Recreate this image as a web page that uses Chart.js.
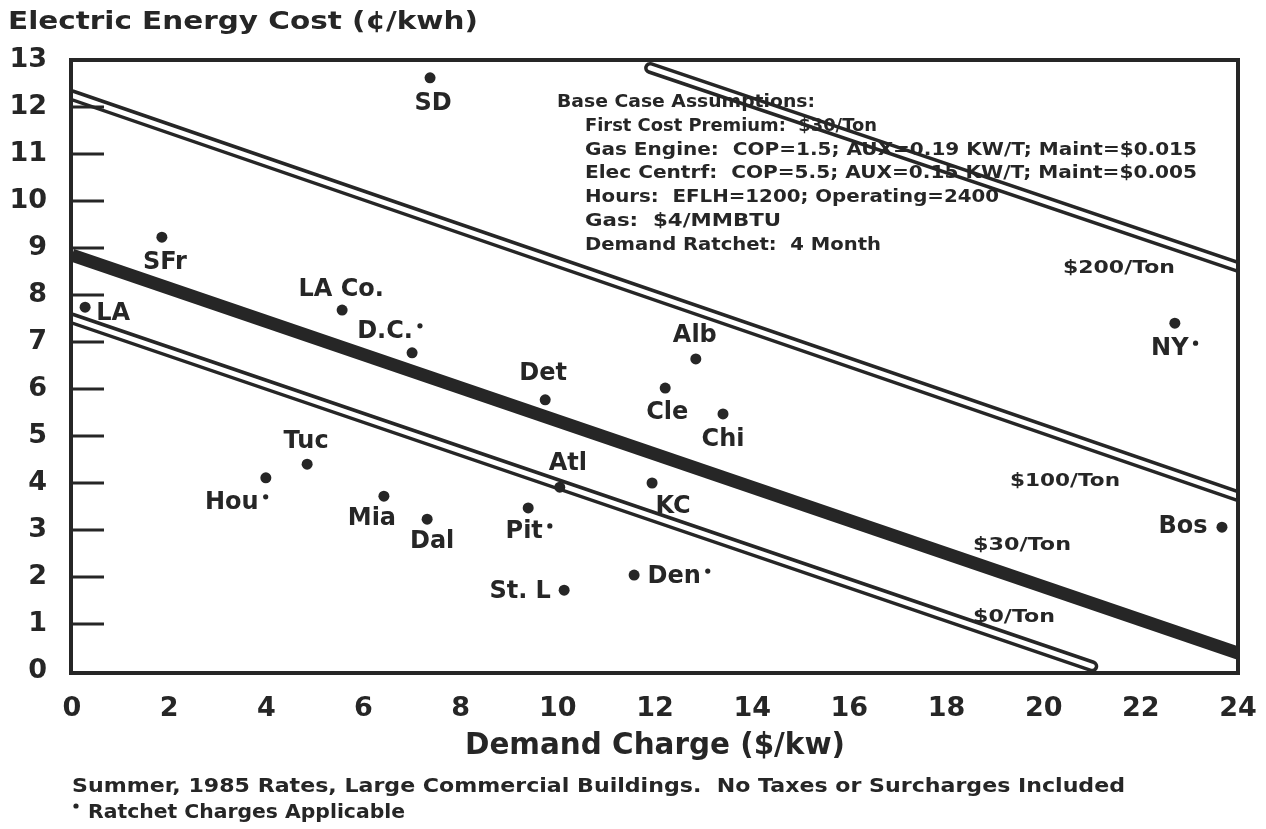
<!DOCTYPE html>
<html><head><meta charset="utf-8">
<script src="https://cdn.jsdelivr.net/npm/chart.js@4.4.1/dist/chart.umd.min.js"></script>
<style>html,body{margin:0;padding:0;background:#fff}#wrap{width:1266px;height:829px;position:relative}</style>
</head><body><div id="wrap"><canvas id="c" width="1266" height="829"></canvas></div>
<script>
// ---- data ----
const cities = ['SD','SFr','LA','LA Co.','D.C.','Det','Alb','Cle','Chi','Atl','KC','Pit','Den','St. L','Tuc','Hou','Mia','Dal','NY','Bos'];
const demandCharge = [7.37,1.85,0.27,5.56,7.00,9.74,12.84,12.21,13.40,10.04,11.94,9.39,11.57,10.13,4.84,3.99,6.42,7.31,22.70,23.67];
const energyCost   = [12.62,9.23,7.74,7.68,6.77,5.77,6.64,6.02,5.47,3.91,4.00,3.47,2.04,1.72,4.40,4.11,3.72,3.23,7.40,3.06];
const ratchetCities = ['D.C.','Pit','Den','Hou','NY'];

const lineLabels = ['$0/Ton','$30/Ton','$100/Ton','$200/Ton'];
const lineStartCharge = [0, 0, 0, 11.9];
const lineStartCost   = [7.5, 8.85, 12.25, 12.83];
const lineEndCharge   = [21, 24, 24, 24];
const lineEndCost     = [0.1, 0.38, 3.72, 8.6];

const xTicks = [0,2,4,6,8,10,12,14,16,18,20,22,24];
const yTicks = [0,1,2,3,4,5,6,7,8,9,10,11,12,13];

const chartTitle = 'Electric Energy Cost (¢/kwh)';
const xTitle = 'Demand Charge ($/kw)';
const assumptions = [
  'Base Case Assumptions:',
  'First Cost Premium:  $30/Ton',
  'Gas Engine:  COP=1.5; AUX=0.19 KW/T; Maint=$0.015',
  'Elec Centrf:  COP=5.5; AUX=0.15 KW/T; Maint=$0.005',
  'Hours:  EFLH=1200; Operating=2400',
  'Gas:  $4/MMBTU',
  'Demand Ratchet:  4 Month'
];
const footnotes = ['Summer, 1985 Rates, Large Commercial Buildings.  No Taxes or Surcharges Included','Ratchet Charges Applicable'];

// ---- style / layout (pixels) ----
const INK = '#262626';
const FONT = '"DejaVu Sans"';
const labelOffsets = [[3,26],[3,26],[28,7],[-1,-20],[-27,-21],[-2,-26],[-1,-23],[2,25],[0,26],[8,-23],[21,24],[-4,24],[40,2],[-44,2],[-1,-22],[-34,25],[-12,23],[5,23],[-5,26],[-39,0]];
const assumptionLayout = [[557,102,258],[585,126,292],[585,150,612],[585,173,612],[585,197,414],[585,221,196],[585,245,296]];
const lineLabelLayout = [[973,617,82],[973,545,98],[1010,481,110],[1063,268,112]];

function fitText(ctx, text, x, y, width, size, align) {
  ctx.font = `bold ${size}px ${FONT}`;
  const w = ctx.measureText(text).width;
  const sx = width / w;
  ctx.save();
  ctx.translate(align === 'center' ? x - width / 2 : x, y);
  ctx.scale(sx, 1);
  ctx.textAlign = 'left';
  ctx.textBaseline = 'middle';
  ctx.fillText(text, 0, 0);
  ctx.restore();
}

const pts = cities.map((c, i) => ({x: demandCharge[i], y: energyCost[i]}));
const lineData = lineLabels.map((l, i) => [{x: lineStartCharge[i], y: lineStartCost[i]}, {x: lineEndCharge[i], y: lineEndCost[i]}]);

const datasets = [
  {label: 'Cities', data: pts, showLine: false, pointRadius: 5.5, pointHoverRadius: 5.5, backgroundColor: INK, borderWidth: 0, order: 0}
];
lineLabels.forEach((l, i) => {
  if (i === 1) {
    datasets.push({label: l, data: lineData[i], showLine: true, borderColor: INK, borderWidth: 13, pointRadius: 0, borderCapStyle: 'butt', clip: 0, order: 3});
  } else {
    datasets.push({label: l + ' outline', data: lineData[i], showLine: true, borderColor: INK, borderWidth: 12, pointRadius: 0, borderCapStyle: 'round', clip: 0, order: 3});
    datasets.push({label: l, data: lineData[i], showLine: true, borderColor: '#ffffff', borderWidth: 5, pointRadius: 0, borderCapStyle: 'round', clip: 0, order: 2});
  }
});

const decor = {
  id: 'decor',
  afterDatasetsDraw(chart) {
    const {ctx, chartArea: a, scales: {y}} = chart;
    ctx.save();
    ctx.strokeStyle = INK;
    ctx.lineWidth = 4;
    ctx.strokeRect(a.left - 1, a.top, a.right - a.left + 1, a.bottom - a.top + 2);
    ctx.lineWidth = 3;
    yTicks.forEach(v => {
      if (v === 0 || v === 13) return;
      const py = y.getPixelForValue(v);
      ctx.beginPath(); ctx.moveTo(a.left - 1, py); ctx.lineTo(a.left + 32, py); ctx.stroke();
    });
    ctx.restore();
  },
  afterDraw(chart) {
    const {ctx, scales: {x, y}} = chart;
    ctx.save();
    ctx.fillStyle = INK;
    cities.forEach((c, i) => {
      const px = x.getPixelForValue(demandCharge[i]) + labelOffsets[i][0];
      const py = y.getPixelForValue(energyCost[i]) + labelOffsets[i][1];
      ctx.font = `bold 24px ${FONT}`;
      ctx.textAlign = 'center';
      ctx.textBaseline = 'middle';
      ctx.fillText(c, px, py);
      if (ratchetCities.includes(c)) {
        const w = ctx.measureText(c).width;
        ctx.beginPath(); ctx.arc(px + w / 2 + 7, py - 6, 2.6, 0, Math.PI * 2); ctx.fill();
      }
    });
    lineLabels.forEach((l, i) => {
      const [lx, ly, lw] = lineLabelLayout[i];
      fitText(ctx, l, lx, ly, lw, 18);
    });
    assumptions.forEach((t, i) => {
      const [ax, ay, aw] = assumptionLayout[i];
      fitText(ctx, t, ax, ay, aw, 18);
    });
    fitText(ctx, chartTitle, 8, 22, 470, 25);
    fitText(ctx, xTitle, 655, 746, 380, 30, 'center');
    fitText(ctx, footnotes[0], 72, 787, 1053, 19);
    ctx.beginPath(); ctx.arc(76, 806, 2.6, 0, Math.PI * 2); ctx.fill();
    fitText(ctx, footnotes[1], 88, 813, 317, 19);
    ctx.restore();
  }
};

new Chart(document.getElementById('c'), {
  type: 'scatter',
  data: {datasets},
  options: {
    responsive: false,
    animation: false,
    devicePixelRatio: 1,
    layout: {padding: {top: 60, right: 28, left: 0, bottom: 0}},
    plugins: {legend: {display: false}, tooltip: {enabled: false}, title: {display: false}},
    scales: {
      x: {
        type: 'linear', min: 0, max: 24,
        afterBuildTicks: s => { s.ticks = xTicks.map(v => ({value: v})); },
        afterFit: s => { s.height = 158; s.paddingLeft = 0; s.paddingRight = 0; },
        grid: {display: false, drawTicks: false},
        border: {display: false},
        ticks: {color: INK, padding: 22, maxRotation: 0, autoSkip: false, font: {family: 'DejaVu Sans', weight: 'bold', size: 27}}
      },
      y: {
        type: 'linear', min: 0, max: 13,
        afterBuildTicks: s => { s.ticks = yTicks.map(v => ({value: v})); },
        afterFit: s => { s.width = 72; s.paddingTop = 0; s.paddingBottom = 0; },
        grid: {display: false, drawTicks: false},
        border: {display: false},
        ticks: {color: INK, padding: 25, autoSkip: false, font: {family: 'DejaVu Sans', weight: 'bold', size: 27}}
      }
    }
  },
  plugins: [decor]
});
</script>
</body></html>
